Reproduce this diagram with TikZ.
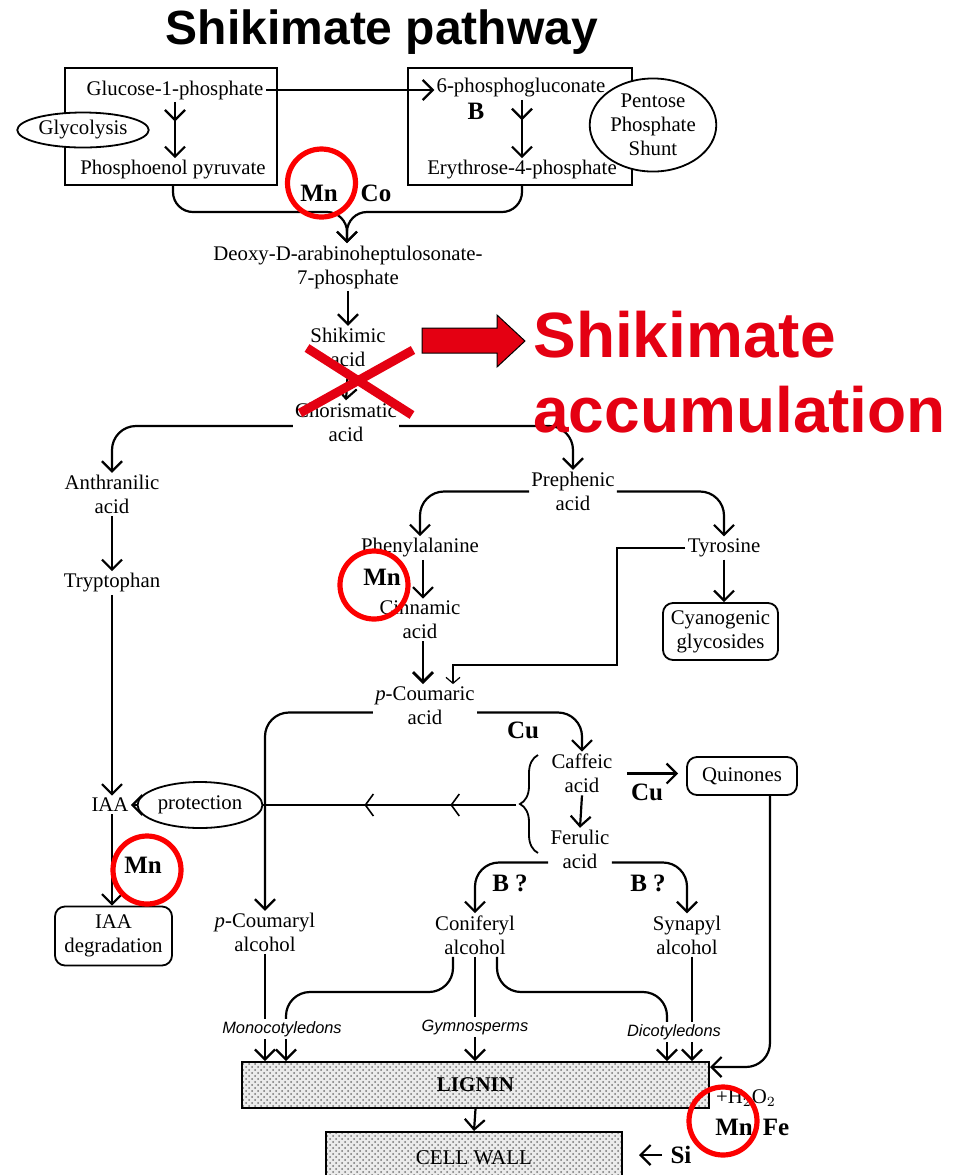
\documentclass[tikz,border=0pt]{standalone}
\usepackage{fontspec}
\setmainfont{Liberation Serif}
\setsansfont{Liberation Sans}
\usetikzlibrary{positioning}
\usetikzlibrary{arrows.meta}
\usetikzlibrary{shapes.geometric}
\usetikzlibrary{patterns}
\usetikzlibrary{decorations.markings}
\usetikzlibrary{decorations.pathreplacing}
\definecolor{alarm}{RGB}{228,0,18}
\definecolor{ringred}{RGB}{252,0,0}
\tikzset{barb/.tip={Straight Barb[length=5pt,width=10pt]}}
\tikzset{
  lbl/.style={font=\fontsize{10.4}{12}\selectfont, align=center, inner sep=1pt},
  elem/.style={font=\fontsize{12.5}{14}\selectfont\bfseries, inner sep=0pt},
  plant/.style={font=\sffamily\itshape\fontsize{8.2}{9}\selectfont, inner sep=1pt},
  flow/.style={-barb, line width=1.1pt},
  twostep/.style={flow, postaction={decorate},
    decoration={markings, mark=at position 0.35 with {\arrow{barb}}}},
  feed/.style={-{Straight Barb[length=3pt,width=7pt]}, line width=0.6pt},
  guard/.style={line width=0.8pt, postaction={decorate},
    decoration={markings,
      mark=at position 0.26 with {\arrow{Straight Barb[length=4pt,width=11pt]}},
      mark=at position 0.60 with {\arrow{Straight Barb[length=4pt,width=11pt]}}}},
  ring/.style={circle, draw=ringred, line width=2.6pt, minimum size=34pt, inner sep=0pt},
  oval/.style={ellipse, draw, fill=white, line width=0.9pt, inner sep=0pt, lbl},
  rbox/.style={draw, rounded corners=5pt, line width=0.9pt, lbl},
  slab/.style={draw, line width=1pt, preaction={fill=black!8}, pattern=crosshatch dots,
    pattern color=black!55, font=\fontsize{10.5}{12}\selectfont},
}

\begin{document}
\begin{tikzpicture}[x=0.5pt, y=-0.5pt]
    \useasboundingbox (0,0) rectangle (959,1175);
    \clip (0,0) rectangle (959,1175);

    \node[font=\sffamily\bfseries\fontsize{24}{28}\selectfont, anchor=base] (title) at (382,44) {Shikimate pathway};

    % sugar phosphates
    \node[draw, line width=1pt, minimum width=106pt, minimum height=58.5pt] (lbox) at (171,126.5) {};
    \node[draw, line width=1pt, minimum width=112pt, minimum height=58.5pt] (rbox) at (520,126.5) {};
    \node[lbl] (gluc) at (175,90) {Glucose-1-phosphate};
    \node[lbl] (pep) at (173,170) {Phosphoenol pyruvate};
    \node[lbl] (pgl) at (521,88) {6-phosphogluconate};
    \node[lbl] (ery) at (522,170) {Erythrose-4-phosphate};
    \node[elem] (bor) at (476,111) {B};
    \node[oval, minimum width=65.5pt, minimum height=17.5pt] (glyc) at (83,130) {Glycolysis};
    \node[oval, minimum width=62pt, minimum height=45pt] (pps) at (653,125) {Pentose\\Phosphate\\Shunt};

    \draw[flow] (gluc.east) -- (gluc.east -| pgl.west);
    \draw[twostep] (gluc.south) -- (gluc.south |- pep.north);
    \draw[twostep] (pgl.south -| ery.north) -- (ery.north);

    \node[elem] (mn1) at (319,193) {Mn};
    \node[elem] (co) at (376,193) {Co};
    \node[lbl] (deoxy) at (348,267) {Deoxy-D-arabinoheptulosonate-\\7-phosphate};
    \coordinate (join) at (347,212);
    \draw[flow, rounded corners=10pt] (pep |- lbox.south) |- (join) -- (deoxy.north -| join);
    \draw[flow, rounded corners=10pt] (ery |- rbox.south) |- (join) -- (deoxy.north -| join);

    \node[lbl] (shik) at (348,347.5) {Shikimic\\acid};
    \node[lbl] (chor) at (346,422) {Chorismatic\\acid};
    \draw[flow] (deoxy.south) -- (shik.north);
    \draw[flow] (shik.south) -- (chor.north);

    % tryptophan branch
    \node[lbl] (anth) at (112,494.5) {Anthranilic\\acid};
    \node[lbl] (tryp) at (112,583) {Tryptophan};
    \node[lbl] (iaa) at (110,805) {IAA};
    \node[oval, minimum width=53pt, minimum height=23pt] (prot) at (200,805) {protection};
    \node[rbox, minimum width=58.5pt, minimum height=29.5pt] (iaadeg) at (113.5,936) {IAA\\degradation};
    \node[elem] (mn3) at (143,865) {Mn};
    \draw[flow, rounded corners=12pt] ([yshift=-2pt]chor.west) -| (anth.north);
    \draw[flow] (anth.south) -- (tryp.north);
    \draw[flow] (tryp.south) -- (tryp.south |- iaa.north);
    \draw[flow] (prot.west) -- (iaa.east);
    \draw[flow] ([xshift=1pt]iaa.south) -- ([xshift=1pt]iaa.south |- iaadeg.north);

    % phenylpropanoid branch
    \node[lbl] (preph) at (573,491.5) {Prephenic\\acid};
    \node[lbl] (phe) at (420,548) {Phenylalanine};
    \node[lbl] (tyr) at (724,548) {Tyrosine};
    \node[rbox, minimum width=57.5pt, minimum height=28.5pt] (cyan) at (720.5,631.5) {Cyanogenic\\glycosides};
    \node[lbl] (cinn) at (420,620) {Cinnamic\\acid};
    \node[elem] (mn2) at (382,577) {Mn};
    \node[lbl] (pcou) at (425,705.5) {\textit{p}-Coumaric\\acid};
    \draw[flow, rounded corners=12pt] ([yshift=-2pt]chor.east) -| (preph.north);
    \draw[flow, rounded corners=12pt] (preph.west) -| (phe.north);
    \draw[flow, rounded corners=12pt] (preph.east) -| (tyr.north);
    \draw[flow] (tyr.south) -- (tyr.south |- cyan.north);
    \draw[flow] ([xshift=1.5pt]phe.south) -- ([xshift=1.5pt]phe.south |- cinn.north);
    \draw[flow, line width=1.4pt] ([xshift=1.5pt]cinn.south) -- ([xshift=1.5pt]cinn.south |- pcou.north);
    \coordinate (tyrturn) at (617,665);
    \draw[feed] (tyr.west) -| (tyrturn) -| ([xshift=14pt]pcou.north);

    \node[lbl] (caff) at (582,773.5) {Caffeic\\acid};
    \node[lbl] (feru) at (580,849.5) {Ferulic\\acid};
    \node[rbox, minimum width=55pt, minimum height=19pt] (quin) at (742,776) {Quinones};
    \node[elem] (cu1) at (523,730) {Cu};
    \node[elem] (cu2) at (647,792) {Cu};
    \draw[flow, rounded corners=12pt] ([yshift=-3.5pt]pcou.east) -| (caff.north);
    \draw[flow] (caff.south) -- (feru.north);
    \draw[flow, shorten <=6pt, shorten >=4pt] (caff.east) -- (caff.east -| quin.west);

    % brace and protection line
    \draw[line width=0.9pt, decorate, decoration={brace, amplitude=9pt}] (538,853) -- (538,755);
    \coordinate (brtip) at (516,805);
    \draw[guard] (brtip) -- (prot.east);

    % alcohols
    \node[lbl] (pcoumaryl) at (265,932.5) {\textit{p}-Coumaryl\\alcohol};
    \node[lbl] (conif) at (475,935) {Coniferyl\\alcohol};
    \node[lbl] (syn) at (687,935) {Synapyl\\alcohol};
    \node[elem] (bq1) at (510,883) {B ?};
    \node[elem] (bq2) at (648,883) {B ?};
    \draw[flow, rounded corners=12pt] ([yshift=-3.5pt]pcou.west) -| (pcoumaryl.north);
    \draw[flow, rounded corners=12pt] ([yshift=-6.5pt]feru.west) -| (conif.north);
    \draw[flow, rounded corners=12pt] ([yshift=-6.5pt]feru.east) -| (syn.north);

    % lignin
    \node[plant] (mono) at (282,1029) {Monocotyledons};
    \node[plant] (gymno) at (475,1027) {Gymnosperms};
    \node[plant] (dico) at (674,1032) {Dicotyledons};
    \node[slab, minimum width=233.5pt, minimum height=23pt] (lignin) at (475.5,1085) {\textbf{LIGNIN}};
    \node[slab, minimum width=148pt, minimum height=26pt] (cellwall) at (474,1158) {CELL WALL};
    \coordinate (monoin) at (286,992);
    \coordinate (dicoin) at (667,992);
    \coordinate (synout) at (692,960);

    \draw[line width=1.1pt] (pcoumaryl.south) -- (pcoumaryl.south |- mono.north);
    \draw[flow] (pcoumaryl.south |- mono.south) -- (pcoumaryl.south |- lignin.north);
    \draw[line width=1.1pt, rounded corners=12pt] ([xshift=-11pt]conif.south) |- (monoin) -- (monoin |- mono.north);
    \draw[flow] (monoin |- mono.south) -- (monoin |- lignin.north);
    \draw[line width=1.1pt] (conif.south) -- (gymno.north);
    \draw[flow] (gymno.south) -- (gymno.south |- lignin.north);
    \draw[line width=1.1pt, rounded corners=12pt] ([xshift=11pt]conif.south) |- (dicoin) -- (dicoin |- dico.north);
    \draw[flow] (dicoin |- dico.south) -- (dicoin |- lignin.north);
    \draw[line width=1.1pt] (synout |- syn.south) -- (synout |- dico.north);
    \draw[flow] (synout |- dico.south) -- (synout |- lignin.north);
    \draw[flow, rounded corners=12pt] ([xshift=14pt]quin.south) |- ([yshift=-3pt]lignin.north east);
    \draw[flow] (lignin.south) -- (cellwall.north);

    \node[lbl] (hoo) at (746,1098) {+H$_2$O$_2$};
    \node[elem] (mn4) at (734,1127) {Mn};
    \node[elem] (fe) at (776,1127) {Fe};
    \node[elem] (si) at (681,1155) {Si};
    \draw[flow, shorten <=4pt, shorten >=8pt] (si.west) -- (si.west -| cellwall.east);

    % red marks
    \node[ring] (r1) at (321.5,183) {};
    \node[ring] (r2) at (374,585) {};
    \node[ring] (r3) at (147,870) {};
    \node[ring] (r4) at (723,1121) {};
    \draw[alarm, line width=4.5pt] (307,348) -- (412,415) (300,413) -- (413,350);
    \draw[fill=alarm, line width=0.5pt] (422,328) -- (497,328) -- (497,315) -- (525,341)
        -- (497,367) -- (497,353) -- (422,353) -- cycle;
    \node[font=\sffamily\bfseries\fontsize{32}{37.5}\selectfont, text=alarm, align=left,
        anchor=base west, inner sep=0pt] (accum) at (533,432) {Shikimate\\accumulation};
\end{tikzpicture}
\end{document}
